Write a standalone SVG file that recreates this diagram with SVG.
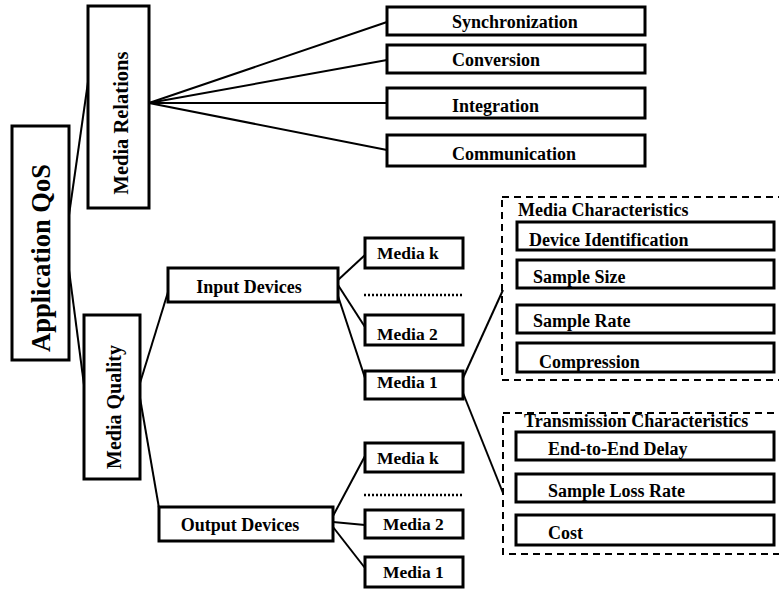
<svg xmlns="http://www.w3.org/2000/svg" width="779" height="592" viewBox="0 0 779 592">
  <style>
    .box { fill: #fff; stroke: #000; stroke-width: 3; }
    .group { fill: none; stroke: #000; stroke-width: 2; stroke-dasharray: 7 5; }
    .link { fill: none; stroke: #000; stroke-width: 2; }
    .dots { fill: none; stroke: #000; stroke-width: 2.5; stroke-dasharray: 2 2; }
    text { font-family: "Liberation Serif", "Times New Roman", serif; font-weight: bold; fill: #000; }
    .t18 { font-size: 18px; }
    .tm { font-size: 17.5px; }
  </style>

  <rect width="779" height="592" fill="#fff"/>

  <!-- connectors -->
  <g id="connectors">
    <line class="link" x1="69" y1="215" x2="88" y2="82"/>
    <line class="link" x1="69" y1="270" x2="84" y2="385"/>
    <line class="link" x1="149" y1="103" x2="387" y2="22"/>
    <line class="link" x1="149" y1="103" x2="387" y2="60"/>
    <line class="link" x1="149" y1="103" x2="387" y2="103"/>
    <line class="link" x1="149" y1="103" x2="387" y2="150"/>
    <line class="link" x1="140" y1="383" x2="168" y2="292"/>
    <line class="link" x1="140" y1="398" x2="159" y2="508"/>
    <line class="link" x1="338" y1="280" x2="365" y2="255"/>
    <line class="link" x1="338" y1="285" x2="365" y2="327"/>
    <line class="link" x1="338" y1="296" x2="365" y2="378"/>
    <line class="link" x1="333" y1="516" x2="365" y2="456"/>
    <line class="link" x1="333" y1="522" x2="365" y2="525"/>
    <line class="link" x1="333" y1="527" x2="365" y2="568"/>
    <line class="link" x1="463" y1="378" x2="503" y2="290"/>
    <line class="link" x1="463" y1="393" x2="503" y2="493"/>
    <line class="dots" x1="364" y1="295" x2="463" y2="295"/>
    <line class="dots" x1="364" y1="495" x2="463" y2="495"/>
  </g>

  <!-- root -->
  <g id="app-qos">
    <rect class="box" x="12" y="126" width="57" height="234"/>
    <text x="41" y="258" font-size="26.5" text-anchor="middle" dominant-baseline="central" transform="rotate(-90 41 258)">Application QoS</text>
  </g>

  <!-- media relations branch -->
  <g id="media-relations">
    <rect class="box" x="88" y="6" width="61" height="202"/>
    <text x="121" y="123" font-size="20.5" text-anchor="middle" dominant-baseline="central" transform="rotate(-90 121 123)">Media Relations</text>
  </g>
  <g id="synchronization">
    <rect class="box" x="387" y="7" width="258" height="28"/>
    <text class="t18" x="452" y="28">Synchronization</text>
  </g>
  <g id="conversion">
    <rect class="box" x="387" y="45" width="258" height="28"/>
    <text class="t18" x="452" y="66">Conversion</text>
  </g>
  <g id="integration">
    <rect class="box" x="387" y="88" width="258" height="30"/>
    <text class="t18" x="452" y="112">Integration</text>
  </g>
  <g id="communication">
    <rect class="box" x="387" y="135" width="258" height="31"/>
    <text class="t18" x="452" y="160">Communication</text>
  </g>

  <!-- media quality branch -->
  <g id="media-quality">
    <rect class="box" x="84" y="315" width="56" height="164"/>
    <text x="114" y="407" font-size="20" text-anchor="middle" dominant-baseline="central" transform="rotate(-90 114 407)">Media Quality</text>
  </g>
  <g id="input-devices">
    <rect class="box" x="168" y="268" width="170" height="34"/>
    <text class="t18" x="249" y="293" text-anchor="middle">Input Devices</text>
  </g>
  <g id="output-devices">
    <rect class="box" x="159" y="507" width="174" height="34"/>
    <text class="t18" x="240" y="531" text-anchor="middle">Output Devices</text>
  </g>

  <g id="in-media-k">
    <rect class="box" x="365" y="238" width="98" height="30"/>
    <text class="tm" x="377" y="259">Media k</text>
  </g>
  <g id="in-media-2">
    <rect class="box" x="365" y="315" width="98" height="30"/>
    <text class="tm" x="377" y="340">Media 2</text>
  </g>
  <g id="in-media-1">
    <rect class="box" x="365" y="371" width="98" height="28"/>
    <text class="tm" x="377" y="388">Media 1</text>
  </g>

  <g id="out-media-k">
    <rect class="box" x="365" y="443" width="98" height="29"/>
    <text class="tm" x="377" y="464">Media k</text>
  </g>
  <g id="out-media-2">
    <rect class="box" x="365" y="510" width="98" height="28"/>
    <text class="tm" x="383" y="530">Media 2</text>
  </g>
  <g id="out-media-1">
    <rect class="box" x="365" y="557" width="98" height="30"/>
    <text class="tm" x="383" y="578">Media 1</text>
  </g>

  <!-- media characteristics group -->
  <g id="media-characteristics">
    <rect class="group" x="502" y="197" width="290" height="183"/>
    <text class="t18" x="518" y="216">Media Characteristics</text>
  </g>
  <g id="device-identification">
    <rect class="box" x="517" y="222" width="257" height="28"/>
    <text class="t18" x="529" y="246">Device Identification</text>
  </g>
  <g id="sample-size">
    <rect class="box" x="517" y="260" width="257" height="28"/>
    <text class="t18" x="533" y="283">Sample Size</text>
  </g>
  <g id="sample-rate">
    <rect class="box" x="517" y="305" width="257" height="28"/>
    <text class="t18" x="533" y="327">Sample Rate</text>
  </g>
  <g id="compression">
    <rect class="box" x="517" y="343" width="257" height="29"/>
    <text class="t18" x="539" y="368">Compression</text>
  </g>

  <!-- transmission characteristics group -->
  <g id="transmission-characteristics">
    <rect class="group" x="503" y="413" width="290" height="141"/>
    <text class="t18" x="524" y="427">Transmission Characteristics</text>
  </g>
  <g id="end-to-end-delay">
    <rect class="box" x="516" y="432" width="258" height="28"/>
    <text class="t18" x="548" y="455">End-to-End Delay</text>
  </g>
  <g id="sample-loss-rate">
    <rect class="box" x="516" y="474" width="258" height="28"/>
    <text class="t18" x="548" y="497">Sample Loss Rate</text>
  </g>
  <g id="cost">
    <rect class="box" x="516" y="515" width="258" height="30"/>
    <text class="t18" x="548" y="539">Cost</text>
  </g>
</svg>
